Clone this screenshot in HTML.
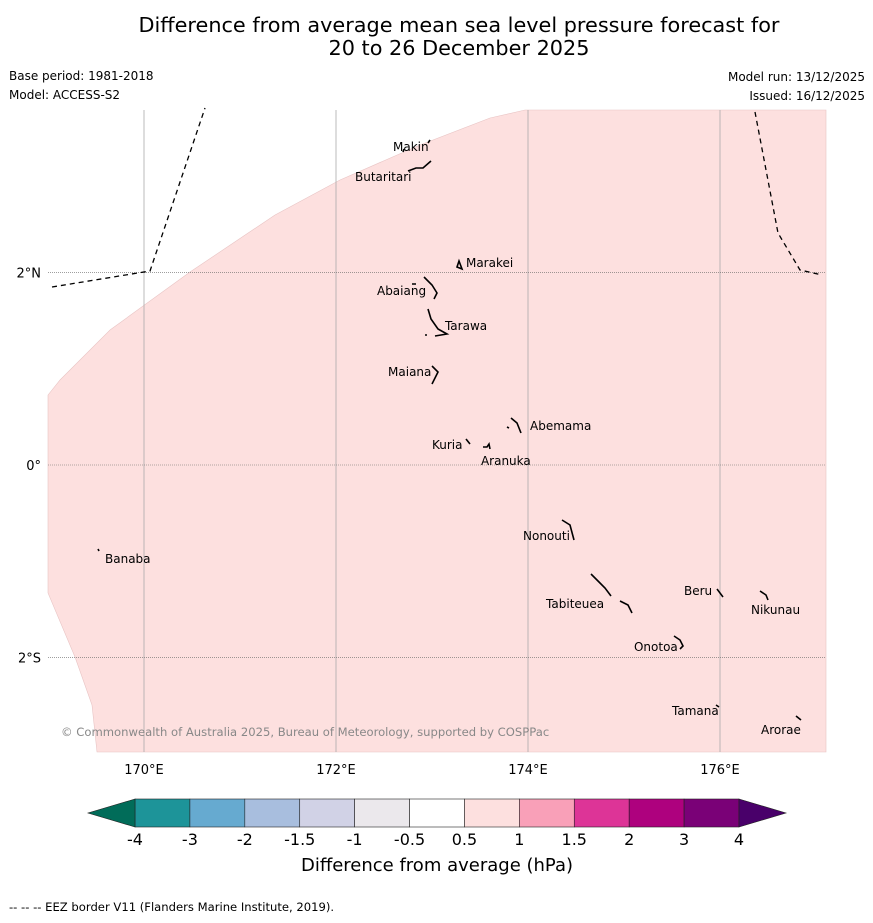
<!DOCTYPE html>
<html><head><meta charset="utf-8"><style>
body{margin:0;background:#fff;width:873px;height:919px;overflow:hidden;font-family:"DejaVu Sans","Liberation Sans",sans-serif;}
svg text{font-family:"DejaVu Sans","Liberation Sans",sans-serif;}
</style></head><body>
<svg id="chart" width="873" height="919">
<text x="459" y="32" font-size="20.8" text-anchor="middle">Difference from average mean sea level pressure forecast for</text>
<text x="459" y="55" font-size="20.8" text-anchor="middle">20 to 26 December 2025</text>
<text x="9" y="80" font-size="12">Base period: 1981-2018</text>
<text x="9" y="99" font-size="12">Model: ACCESS-S2</text>
<text x="865" y="81" font-size="12" text-anchor="end">Model run: 13/12/2025</text>
<text x="865" y="100" font-size="12" text-anchor="end">Issued: 16/12/2025</text>
<g id="map">
<rect x="48" y="110" width="778" height="642" fill="#fff"/>
<path d="M48,395 L60,380 L110,330 L190,272 L275,215 L340,180 L420,145 L490,118 L525,110 L826,110 L826,752 L97,752 L92,705 L75,657 L48,593 Z" fill="#fde0df" stroke="#e8c4c4" stroke-width="0.6"/>
<g id="grid"></g>
<path d="M52,287 L150,271 L205,108" fill="none" stroke="#000" stroke-width="1.3" stroke-dasharray="5,4"/>
<path d="M755,112 L778,233 L800,270 L822,275" fill="none" stroke="#000" stroke-width="1.3" stroke-dasharray="5,4"/>
<g id="islands" fill="none" stroke="#000" stroke-width="1.6"></g>
<text x="61" y="736" font-size="11.6" fill="#888">© Commonwealth of Australia 2025, Bureau of Meteorology, supported by COSPPac</text>
</g>
<g id="axes"></g>
<g id="colorbar"></g>
<text x="437" y="871" font-size="18" text-anchor="middle">Difference from average (hPa)</text>
<text x="9" y="911" font-size="11.6">--  --  -- EEZ border V11 (Flanders Marine Institute, 2019).</text>
</svg>
<script>
const lonTicks=[170,172,174,176];
const latTicks=[2,0,-2];
const cbBounds=["-4","-3","-2","-1.5","-1","-0.5","0.5","1","1.5","2","3","4"];
const cbColors=["#1d9499","#66aad0","#a8bede","#d1d2e6","#ebe8ec","#ffffff","#fde0df","#f9a0b8","#dd3497","#ae017e","#7a0177"];
const cbExtColors=["#016c59","#49006a"];
const islandNames=["Makin","Butaritari","Marakei","Abaiang","Tarawa","Maiana","Abemama","Kuria","Aranuka","Banaba","Nonouti","Tabiteuea","Beru","Nikunau","Onotoa","Tamana","Arorae"];
const islandLabelLon=[172.594,172.198,173.354,172.427,173.135,172.542,174.021,173.0,173.51,169.594,173.948,174.188,175.625,176.323,175.104,175.5,176.427];
const islandLabelLat=[3.264,2.952,2.058,1.767,1.403,0.925,0.364,0.166,0.0,-1.019,-0.78,-1.486,-1.351,-1.549,-1.933,-2.599,-2.796];
const NS="http://www.w3.org/2000/svg";
const X=lon=>144+(lon-170)*96;
const Y=lat=>465-lat*96.2;
function mk(tag,attrs,parent){const e=document.createElementNS(NS,tag);for(const k in attrs)e.setAttribute(k,attrs[k]);parent.appendChild(e);return e;}
const grid=document.getElementById('grid'),axes=document.getElementById('axes');
lonTicks.forEach(l=>{
 const g=mk('line',{x1:X(l),x2:X(l),y1:110,y2:752,stroke:'#aaa','stroke-width':0.8},grid);
 
 
 const t=mk('text',{x:X(l),y:774,'font-size':13,'text-anchor':'middle'},axes);t.textContent=l+'°E';
 
 
});
latTicks.forEach(l=>{
 const g=mk('line',{x1:48,x2:826,y1:Y(l),y2:Y(l),stroke:'#666','stroke-width':0.6,'stroke-dasharray':'1,1'},grid);
 
 
 const t=mk('text',{x:41,y:Y(l)+5,'font-size':13,'text-anchor':'end'},axes);t.textContent=l===0?'0°':Math.abs(l)+'°'+(l>0?'N':'S');
 
 
});
const isl=document.getElementById('islands');
const shapes=["M428,143 l2,-3 M403,152 l1,-3","M408,171 l8,-3 l7,0 l8,-7","M457,267 l2,-6 l3,8 z","M424,277 l8,8 l5,8 l-3,6 M412,284 l4,0","M428,309 l3,10 l7,10 l9,5 l-12,2 M425,335 l2,0","M432,366 l6,6 l-3,6 l-3,6","M511,418 l6,5 l4,10 M507,427 l2,1","M466,439 l4,5 M483,447 l4,0 l2,-3 l1,5","M98,549 l1,2","M562,520 l8,5 l4,15","M591,574 l8,8 l6,6 l6,8 M620,601 l8,4 l4,8","M717,589 l6,8","M760,591 l6,4 l2,5","M674,636 l6,4 l3,6 l-3,3","M716,705 l3,2","M796,716 l5,4"];
shapes.forEach(d=>{const p=mk('path',{d:d},isl);});
islandNames.forEach((n,i)=>{
 const lx=X(islandLabelLon[i]),ly=Y(islandLabelLat[i]);
 const t=mk('text',{x:lx,y:ly,'font-size':12},document.getElementById('map'));t.textContent=n;
 
 
});
const cb=document.getElementById('colorbar');
const x0=135,x1=739,y0=799,y1=827,w=(x1-x0)/cbColors.length;
cbColors.forEach((c,i)=>{
 const r=mk('rect',{x:x0+i*w,y:y0,width:w,height:y1-y0,fill:c,stroke:'#222','stroke-width':0.6},cb);
 
 
});
const tl=mk('polygon',{points:`${x0},${y0} ${x0},${y1} 88,813`,fill:cbExtColors[0],stroke:'#222','stroke-width':0.6},cb);


const tr=mk('polygon',{points:`${x1},${y0} ${x1},${y1} 786,813`,fill:cbExtColors[1],stroke:'#222','stroke-width':0.6},cb);


cbBounds.forEach((b,i)=>{
 const t=mk('text',{x:x0+i*w,y:845,'font-size':16,'text-anchor':'middle'},cb);t.textContent=b;
 
 
});
</script>
</body></html>
